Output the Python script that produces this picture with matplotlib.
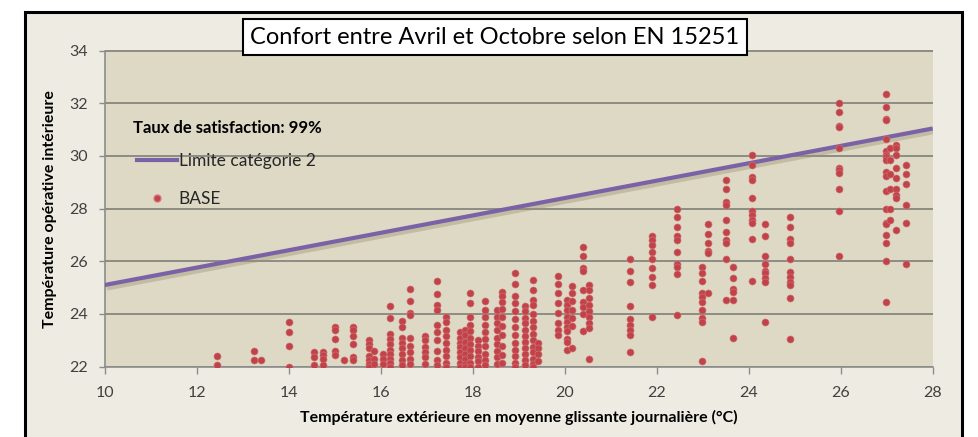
import matplotlib.pyplot as plt
import matplotlib.patheffects as pe
from matplotlib.patches import Rectangle
from matplotlib.lines import Line2D

# Température extérieure (moyenne glissante) de chaque journée
temp_ext = [12.45, 13.25, 13.4, 14.0, 14.55, 14.75, 15.0, 15.2, 15.4, 15.75,
            15.85, 16.05, 16.2, 16.46, 16.63, 16.96, 17.22, 17.42, 17.72, 17.83,
            17.94, 18.12, 18.27, 18.52, 18.64, 18.92, 19.13, 19.32, 19.42, 19.86,
            20.05, 20.15, 20.39, 20.53, 21.43, 21.9, 22.45, 22.99, 23.12, 23.5,
            23.65, 24.08, 24.35, 24.9, 25.97, 26.98, 27.08, 27.2, 27.43]

# Températures opératives intérieures relevées pour chaque journée
temp_int = [
    [22.4, 22.05],
    [22.6, 22.25],
    [22.25],
    [23.7, 23.3, 22.8, 22.0],
    [22.55, 22.35, 22.05],
    [22.55, 22.45, 22.3, 22.05],
    [23.5, 23.4, 23.05, 22.6, 22.45],
    [22.25],
    [23.5, 23.4, 23.15, 22.85, 22.35, 22.25],
    [23.0, 22.85, 22.7, 22.4, 22.25, 22.1, 22.0],
    [22.6, 22.3, 22.1],
    [22.5, 22.3, 22.1],
    [24.3, 23.85, 23.25, 23.05, 22.85, 22.65, 22.5, 22.3, 22.15, 22.0],
    [23.75, 23.5, 23.1, 22.9, 22.7, 22.5, 22.25, 22.05],
    [24.95, 24.5, 24.05, 23.95, 23.1, 22.8, 22.55, 22.3, 22.1],
    [23.15, 23.0, 22.75, 22.55, 22.35, 22.1],
    [25.25, 24.75, 24.35, 24.15, 23.6, 23.3, 23.0, 22.6, 22.25, 22.05],
    [23.9, 23.7, 23.4, 23.15, 22.9, 22.65, 22.4, 22.15, 22.0],
    [23.3, 23.1, 22.9, 22.75, 22.55, 22.35, 22.15, 22.0],
    [23.4, 23.2, 22.95, 22.7, 22.5, 22.3, 22.1, 22.0],
    [24.8, 24.4, 23.9, 23.6, 23.35, 23.1, 22.85, 22.65, 22.4, 22.15, 22.0],
    [23.0, 22.8, 22.6, 22.35, 22.2, 22.0],
    [24.5, 24.15, 23.9, 23.6, 23.3, 23.05, 22.8, 22.5, 22.25, 22.05],
    [24.15, 23.9, 23.65, 23.4, 23.1, 22.85, 22.6, 22.35, 22.1],
    [24.85, 24.7, 24.45, 24.2, 23.9, 23.55, 23.2, 22.8, 22.45, 22.15],
    [25.55, 25.15, 24.7, 24.4, 24.1, 23.8, 23.5, 23.2, 22.9, 22.65, 22.4, 22.15, 22.0],
    [24.3, 24.1, 23.85, 23.65, 23.4, 23.15, 22.95, 22.7, 22.5, 22.25, 22.05],
    [25.3, 24.9, 24.55, 24.35, 24.0, 23.75, 23.5, 23.25, 23.0, 22.75, 22.55, 22.3, 22.1, 22.0],
    [22.9, 22.7, 22.5, 22.2],
    [25.45, 25.15, 24.8, 24.4, 24.05, 23.65, 23.4, 23.2],
    [24.55, 24.35, 24.15, 23.9, 23.7, 23.5, 23.35, 23.05, 22.95, 22.65],
    [25.05, 24.8, 24.5, 24.15, 23.85, 23.55, 22.7],
    [26.55, 26.2, 25.75, 25.65, 24.9, 24.45, 24.25, 24.0, 23.35],
    [25.1, 24.9, 24.6, 24.35, 24.1, 23.9, 23.65, 23.45, 22.3],
    [26.1, 25.65, 25.2, 24.3, 23.8, 23.6, 23.4, 23.2, 22.55],
    [26.95, 26.8, 26.6, 26.35, 26.1, 25.75, 25.4, 25.1, 23.9],
    [28.0, 27.7, 27.3, 26.95, 26.8, 26.35, 25.9, 25.8, 25.5, 23.95],
    [25.8, 25.55, 25.25, 24.8, 24.65, 24.45, 24.15, 23.85, 23.7, 22.2],
    [27.4, 27.05, 26.7, 26.4, 26.3, 24.8],
    [29.1, 28.75, 28.25, 28.15, 27.55, 27.1, 26.8, 26.7, 26.1, 24.55],
    [25.8, 25.35, 24.95, 24.85, 24.55, 23.1],
    [30.05, 29.65, 29.2, 29.1, 28.4, 27.9, 27.75, 27.55, 27.45, 26.85, 25.25],
    [27.4, 26.95, 26.2, 25.9, 25.65, 25.55, 25.35, 25.2, 23.7],
    [27.7, 27.3, 26.85, 26.7, 26.1, 25.6, 25.4, 25.2, 25.1, 24.6, 23.05],
    [32.0, 31.65, 31.15, 31.1, 30.3, 29.55, 29.45, 29.35, 28.75, 27.9, 26.2],
    [32.35, 31.85, 31.4, 31.35, 30.65, 30.2, 30.05, 29.95, 29.85, 29.4, 29.25,
     28.65, 28.0, 27.45, 27.4, 27.0, 26.7, 26.0, 24.45],
    [30.3, 29.85, 29.3, 28.75, 28.0, 27.55],
    [30.4, 30.3, 30.05, 29.55, 29.15, 28.75, 28.5, 28.4, 27.2],
    [29.65, 29.3, 28.95, 28.15, 27.45, 25.9],
]

# Limite haute de la catégorie 2 (EN 15251)
limite_x = [10, 28]
limite_y = [25.1, 31.04]

x_ticks = [10, 12, 14, 16, 18, 20, 22, 24, 26, 28]
y_ticks = [22, 24, 26, 28, 30, 32, 34]
taux_satisfaction = 99

base_x = [x for x, ys in zip(temp_ext, temp_int) for _ in ys]
base_y = [y for ys in temp_int for y in ys]

plt.rcParams["font.family"] = ["Lato", "DejaVu Sans"]

fig = plt.figure(figsize=(9.79, 4.37), dpi=100, facecolor="white")
W, H = 979, 437

# cadre du graphique, derrière les axes
fig.patches.append(Rectangle((25 / W, -0.05), (962 - 25) / W, 1.05 - 12 / H,
                             transform=fig.transFigure, facecolor="#eeece2",
                             edgecolor="black", linewidth=2.2, zorder=-5))

ax = fig.add_axes([104.7 / W, 1 - 366.7 / H, (932.7 - 104.7) / W, (366.7 - 50.5) / H])
ax.set_facecolor("#ddd9c4")

ax.plot(limite_x, limite_y, color="#7b62a6", linewidth=3, solid_capstyle="butt", zorder=3,
        path_effects=[pe.SimpleLineShadow(offset=(1.5, -2.5), shadow_color="#9a9470", alpha=0.4),
                      pe.Normal()])
ax.scatter(base_x, base_y, s=26, color="#c1434a", edgecolors="#d4767a", linewidths=0.4, zorder=4)

ax.set_xlim(10, 28)
ax.set_ylim(22, 34)
ax.set_xticks(x_ticks)
ax.set_yticks(y_ticks)
ax.grid(axis="y", color="#7f7f78", linewidth=1.2)
ax.set_axisbelow(True)
for side in ["top", "right"]:
    ax.spines[side].set_visible(False)
for side in ["left", "bottom"]:
    ax.spines[side].set_color("#8c8c8c")
    ax.spines[side].set_linewidth(1.2)
ax.tick_params(axis="x", direction="out", length=5, width=1, color="#8c8c8c",
               labelsize=11.5, labelcolor="#404040", pad=9)
ax.tick_params(axis="y", direction="out", length=4, width=1, color="#8c8c8c",
               labelsize=11.5, labelcolor="#404040", pad=8)

ax.set_xlabel("Température extérieure en moyenne glissante journalière (°C)",
              fontsize=11.5, fontweight="bold", labelpad=7)
ax.set_ylabel("Température opérative intérieure", fontsize=11.5, fontweight="bold", labelpad=9)

fig.text(495 / W, 1 - 37 / H, "Confort entre Avril et Octobre selon EN 15251",
         ha="center", va="center", fontsize=17,
         bbox=dict(boxstyle="square,pad=0.3", facecolor="white", edgecolor="black", linewidth=1.5))

fig.text(133 / W, 1 - 128 / H, f"Taux de satisfaction: {taux_satisfaction}%",
         ha="left", va="center", fontsize=12, fontweight="bold")

handles = [Line2D([], [], color="#7b62a6", linewidth=3),
           Line2D([], [], linestyle="none", marker="o", markersize=5,
                  markerfacecolor="#c1434a", markeredgecolor="#d4767a")]
fig.legend(handles, ["Limite catégorie 2", "BASE"], loc="upper left",
           bbox_to_anchor=(137 / W, 1 - 153 / H), frameon=False, fontsize=12.5,
           labelcolor="#262626", handlelength=2.3, handletextpad=0.1, labelspacing=1.25,
           borderpad=0, borderaxespad=0)

fig.savefig("out.png", dpi=100, facecolor=fig.get_facecolor())
